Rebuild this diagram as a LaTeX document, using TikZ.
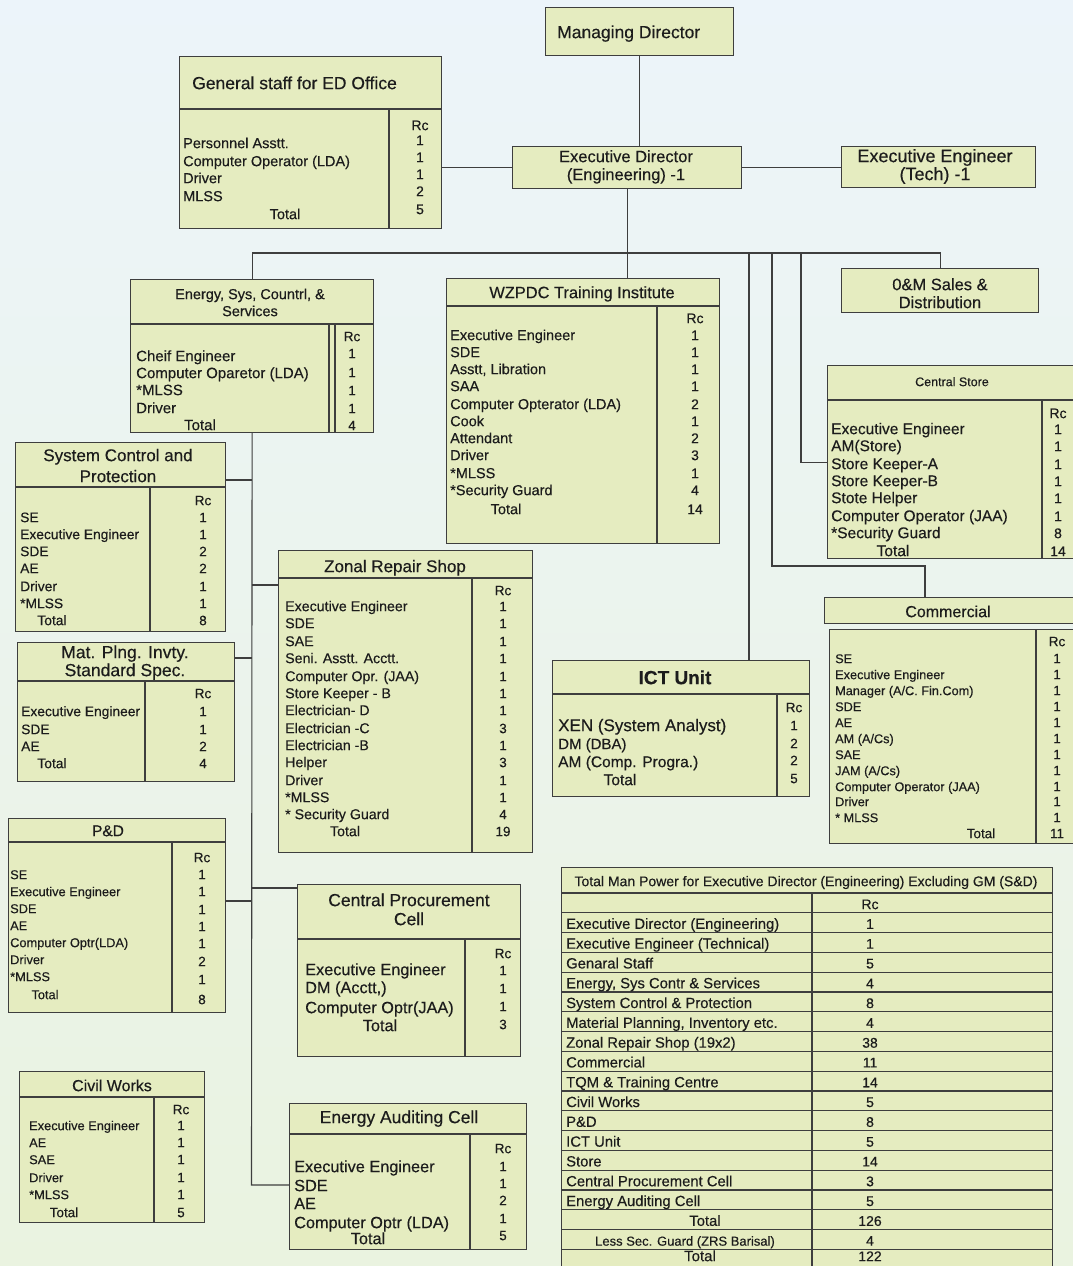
\documentclass[tikz,border=0pt]{standalone}
\usepackage{fontspec}
\setmainfont{Liberation Sans}[FakeBold=0.35]
\definecolor{boxfill}{RGB}{229,236,192}
\definecolor{boxline}{RGB}{62,62,62}
\definecolor{ink}{RGB}{28,28,28}
\definecolor{bgtop}{RGB}{236,244,250}
\definecolor{bgbot}{RGB}{234,243,224}
\newcommand\fs[1]{\fontsize{#1}{#1}\selectfont}
\tikzset{
  box/.style={draw=boxline, fill=boxfill, line width=1.2pt, inner sep=0pt, anchor=north west},
  inner/.style={draw=boxline, line width=1.1pt},
  conn/.style={draw=boxline, line width=1.1pt},
  lbl/.style={inner sep=0pt, text=ink, anchor=mid west, yshift=-3.5pt},
  ctr/.style={inner sep=0pt, text=ink, anchor=mid, yshift=-3.5pt},
}
% #1 prefix, #2 style, #3 size, #4 x, #5 list y/text
\newcommand\colm[5]{%
  \foreach \rowy/\rowt [count=\i] in {#5} {\node[#2, font=\fs{#3}] (#1\i) at (#4,\rowy) {\rowt};}}
\begin{document}
\begin{tikzpicture}[x=1pt,y=-1pt]
\useasboundingbox (0,0) rectangle (1073,1266);
\clip (0,0) rectangle (1073,1266);
\shade[top color=bgtop, bottom color=bgbot] (0,0) rectangle (1073,1266);

% ---------- boxes ----------
\node[box, minimum width=188, minimum height=48] (md) at (545,7) {};
\node[box, minimum width=262, minimum height=172] (gs) at (179,56) {};
\node[box, minimum width=229, minimum height=42] (ed) at (512,146) {};
\node[box, minimum width=194, minimum height=41] (eet) at (841,146) {};
\node[box, minimum width=197, minimum height=44] (om) at (841,268) {};
\node[box, minimum width=250, minimum height=193] (cs) at (827,365) {};
\node[box, minimum width=253, minimum height=26] (comh) at (824,597) {};
\node[box, minimum width=248, minimum height=214] (comb) at (829,629) {};
\node[box, minimum width=273, minimum height=265] (wz) at (446,278) {};
\node[box, minimum width=243, minimum height=153] (es) at (130,279) {};
\node[box, minimum width=210, minimum height=189] (sc) at (15,442) {};
\node[box, minimum width=217, minimum height=139] (mp) at (17,642) {};
\node[box, minimum width=254, minimum height=302] (zr) at (278,550) {};
\node[box, minimum width=257, minimum height=136] (ict) at (552,660) {};
\node[box, minimum width=217, minimum height=194] (pd) at (8,818) {};
\node[box, minimum width=223, minimum height=172] (cpc) at (297,884) {};
\node[box, minimum width=185, minimum height=151] (cw) at (19,1071) {};
\node[box, minimum width=237, minimum height=146] (eac) at (289,1103) {};
\node[box, minimum width=491, minimum height=410] (tbl) at (561,867) {};

% ---------- inner dividers ----------
\draw[inner] (179,109) -- (441,109) (389,109) -- (389,228);
\draw[inner] (827,400) -- (1073,400) (1042,400) -- (1042,558);
\draw[inner] (1036,629) -- (1036,843);
\draw[inner] (446,306) -- (719,306) (657,306) -- (657,543);
\draw[inner] (130,324) -- (373,324) (329,324) -- (329,432) (335,324) -- (335,432);
\draw[inner] (15,487) -- (225,487) (150,487) -- (150,631);
\draw[inner] (17,681) -- (234,681) (145,681) -- (145,781);
\draw[inner] (278,578) -- (532,578) (472,578) -- (472,852);
\draw[inner] (552,694) -- (809,694) (777,694) -- (777,796);
\draw[inner] (8,842) -- (225,842) (172,842) -- (172,1012);
\draw[inner] (297,939) -- (520,939) (465,939) -- (465,1056);
\draw[inner] (19,1097) -- (204,1097) (154,1097) -- (154,1222);
\draw[inner] (289,1134) -- (526,1134) (470,1134) -- (470,1249);
\draw[inner] (561,893) -- (1052,893) (812,893) -- (812,1270);
\foreach \k in {1,...,18} {\draw[inner] (561,{893+19.8*\k}) -- (1052,{893+19.8*\k});}

% ---------- connectors ----------
\coordinate (bus) at (626.5,253);
\coordinate (ictx) at (749,253);
\coordinate (comx) at (772,253);
\coordinate (csx) at (801,253);
\coordinate (comy) at (925,566);
\coordinate (scj) at (251.5,480);
\coordinate (zrj) at (251.5,585);
\coordinate (mpj) at (251.5,658);
\coordinate (cpj) at (251.5,888);
\coordinate (pdj) at (251.5,901);
\coordinate (spe) at (251.5,1185);
\draw[conn] (md.south) -- (md.south |- ed.north);
\draw[conn] (ed.west) -- (ed.west -| gs.east);
\draw[conn] (ed.east) -- (ed.east -| eet.west);
\draw[conn] (ed.south) -- (ed.south |- wz.north);
\draw[conn] (es.north) -- (es.north |- bus) -- (om.north |- bus) -- (om.north);
\draw[conn] (ictx) -- (ictx |- ict.north);
\draw[conn] (csx) |- (cs.west);
\draw[conn] (comx) |- (comy) -- (comy |- comh.north);
\draw[conn] (es.south) -- (spe) -- (spe -| eac.west);
\draw[conn] (scj) -- (scj -| sc.east);
\draw[conn] (zrj) -- (zrj -| zr.west);
\draw[conn] (mpj) -- (mpj -| mp.east);
\draw[conn] (cpj) -- (cpj -| cpc.west);
\draw[conn] (pdj) -- (pdj -| pd.east);

% ---------- texts ----------
\node[lbl, font=\fs{17.5}] (mdt) at (557,32) {Managing Director};

\node[lbl, font=\fs{17.5}] (gst) at (192,83) {General staff for ED Office};
\colm{gsi}{lbl}{14.5}{183}{142/{Personnel Asstt.},160/{Computer Operator (LDA)},177/Driver,195/MLSS}
\node[ctr, font=\fs{14.5}] (gstot) at (285,213) {Total};
\colm{gsn}{ctr}{14}{420}{124/Rc,139/1,156/1,173/1,190/2,208/5}

\node[ctr, font=\fs{16.5}] (edt1) at (626,156) {Executive Director};
\node[ctr, font=\fs{16.5}] (edt2) at (626,174) {(Engineering) -1};
\node[ctr, font=\fs{18}] (eet1) at (935,156) {Executive Engineer};
\node[ctr, font=\fs{18}] (eet2) at (935,174) {(Tech) -1};
\node[ctr, font=\fs{16.5}] (omt1) at (940,284) {0\&M Sales \&};
\node[ctr, font=\fs{16.5}] (omt2) at (940,302) {Distribution};

\node[ctr, font=\fs{12.5}] (cst) at (952,380) {Central Store};
\colm{csi}{lbl}{15.5}{831}{428/{Executive Engineer},445/{AM(Store)},463/{Store Keeper-A},480/{Store Keeper-B},497/{Stote Helper},515/{Computer Operator (JAA)},532/{*Security Guard}}
\node[ctr, font=\fs{15.5}] (cstot) at (893,550) {Total};
\colm{csn}{ctr}{14}{1058}{412/Rc,428/1,445/1,463/1,480/1,497/1,515/1,532/8,550/14}

\node[ctr, font=\fs{16}] (comt) at (948,611) {Commercial};
\colm{comi}{lbl}{12.7}{835}{657/SE,673/{Executive Engineer},689/{Manager (A/C. Fin.Com)},705/SDE,721/AE,737/{AM (A/Cs)},753/SAE,769/{JAM (A/Cs)},785/{Computer Operator (JAA)},800/Driver,816/{* MLSS}}
\node[ctr, font=\fs{13.5}] (comtot) at (981,832) {Total};
\colm{comn}{ctr}{13.5}{1057}{640/Rc,657/1,673/1,689/1,705/1,721/1,737/1,753/1,769/1,785/1,800/1,816/1,832/11}

\node[ctr, font=\fs{16.4}] (wzt) at (582,292) {WZPDC Training Institute};
\colm{wzi}{lbl}{14.5}{450}{334/{Executive Engineer},351/SDE,368/{Asstt, Libration},385/SAA,403/{Computer Opterator (LDA)},420/Cook,437/Attendant,454/Driver,472/{*MLSS},489/{*Security Guard}}
\node[ctr, font=\fs{14.5}] (wztot) at (506,508) {Total};
\colm{wzn}{ctr}{14}{695}{317/Rc,334/1,351/1,368/1,385/1,403/2,420/1,437/2,454/3,472/1,489/4,508/14}

\node[ctr, font=\fs{14.5}] (est1) at (250,293) {Energy, Sys, Countrl, \&};
\node[ctr, font=\fs{14.5}] (est2) at (250,310) {Services};
\colm{esi}{lbl}{15}{136}{355/{Cheif Engineer},372/{Computer Oparetor (LDA)},389/{*MLSS},407/Driver}
\node[ctr, font=\fs{15}] (estot) at (200,424) {Total};
\colm{esn}{ctr}{13.5}{352}{335/Rc,352/1,371/1,389/1,407/1,424/4}

\node[ctr, font=\fs{17}] (sct1) at (118,455) {System Control and};
\node[ctr, font=\fs{17}] (sct2) at (118,476) {Protection};
\colm{sci}{lbl}{13.8}{20}{516/SE,533/{Executive Engineer},550/SDE,567/AE,585/Driver,602/{*MLSS}}
\node[ctr, font=\fs{13.8}] (sctot) at (52,619) {Total};
\colm{scn}{ctr}{13.5}{203}{499/Rc,516/1,533/1,550/2,567/2,585/1,602/1,619/8}

\node[ctr, font=\fs{17.5}] (mpt1) at (125,652) {Mat. Plng. Invty.};
\node[ctr, font=\fs{17.5}] (mpt2) at (125,670) {Standard Spec.};
\colm{mpi}{lbl}{13.8}{21}{710/{Executive Engineer},728/SDE,745/AE}
\node[ctr, font=\fs{13.8}] (mptot) at (52,762) {Total};
\colm{mpn}{ctr}{13.5}{203}{692/Rc,710/1,728/1,745/2,762/4}

\node[ctr, font=\fs{17}] (zrt) at (395,566) {Zonal Repair Shop};
\colm{zri}{lbl}{14.2}{285}{605/{Executive Engineer},622/SDE,640/SAE,657/{Seni. Asstt. Acctt.},675/{Computer Opr. (JAA)},692/{Store Keeper - B},709/{Electrician- D},727/{Electrician -C},744/{Electrician -B},761/Helper,779/Driver,796/{*MLSS},813/{* Security Guard}}
\node[ctr, font=\fs{14.2}] (zrtot) at (345,830) {Total};
\colm{zrn}{ctr}{13.5}{503}{589/Rc,605/1,622/1,640/1,657/1,675/1,692/1,709/1,727/3,744/1,761/3,779/1,796/1,813/4,830/19}

\node[ctr, font=\bfseries\fs{19}] (ictt) at (675,678) {ICT Unit};
\node[lbl, font=\fs{17}] (icti1) at (558,725) {XEN (System Analyst)};
\node[lbl, font=\fs{15}] (icti2) at (558,743) {DM (DBA)};
\node[lbl, font=\fs{15.5}] (icti3) at (558,761) {AM (Comp. Progra.)};
\node[ctr, font=\fs{15.5}] (icttot) at (620,779) {Total};
\colm{ictn}{ctr}{13.5}{794}{706/Rc,724/1,742/2,759/2,777/5}

\node[ctr, font=\fs{15.5}] (pdt) at (108,830) {P\&D};
\colm{pdi}{lbl}{12.8}{10}{873/SE,890/{Executive Engineer},907/SDE,924/AE,941/{Computer Optr(LDA)},958/Driver,975/{*MLSS}}
\node[ctr, font=\fs{12.8}] (pdtot) at (45,993) {Total};
\colm{pdn}{ctr}{13.5}{202}{856/Rc,873/1,890/1,908/1,925/1,942/1,960/2,978/1,998/8}

\node[ctr, font=\fs{17.5}] (cpct1) at (409,900) {Central Procurement};
\node[ctr, font=\fs{17.5}] (cpct2) at (409,919) {Cell};
\colm{cpci}{lbl}{16.3}{305}{969/{Executive Engineer},987/{DM (Acctt,)},1007/{Computer Optr(JAA)}}
\node[ctr, font=\fs{16.3}] (cpctot) at (380,1025) {Total};
\colm{cpcn}{ctr}{13.5}{503}{952/Rc,969/1,987/1,1005/1,1023/3}

\node[ctr, font=\fs{16}] (cwt) at (112,1085) {Civil Works};
\colm{cwi}{lbl}{12.8}{29}{1124/{Executive Engineer},1141/AE,1158/SAE,1176/Driver,1193/{*MLSS}}
\node[ctr, font=\fs{13.5}] (cwtot) at (64,1211) {Total};
\colm{cwn}{ctr}{13.5}{181}{1108/Rc,1124/1,1141/1,1158/1,1176/1,1193/1,1211/5}

\node[ctr, font=\fs{17.5}] (eact) at (399,1117) {Energy Auditing Cell};
\colm{eaci}{lbl}{16.3}{294}{1166/{Executive Engineer},1185/SDE,1203/AE,1222/{Computer Optr (LDA)}}
\node[ctr, font=\fs{16.3}] (eactot) at (368,1238) {Total};
\colm{eacn}{ctr}{13.5}{503}{1147/Rc,1165/1,1182/1,1199/2,1217/1,1234/5}

% ---------- summary table ----------
\node[ctr, font=\fs{14}] (tblt) at (806,880) {Total Man Power for Executive Director (Engineering) Excluding GM (S\&D)};
\node[ctr, font=\fs{14}] (tblrc) at (870,903) {Rc};
\foreach \rt/\rv [count=\k] in {{Executive Director (Engineering)}/1,{Executive Engineer (Technical)}/1,{Genaral Staff}/5,{Energy, Sys Contr \& Services}/4,{System Control \& Protection}/8,{Material Planning, Inventory etc.}/4,{Zonal Repair Shop (19x2)}/38,{Commercial}/11,{TQM \& Training Centre}/14,{Civil Works}/5,{P\&D}/8,{ICT Unit}/5,{Store}/14,{Central Procurement Cell}/3,{Energy Auditing Cell}/5} {
  \node[lbl, font=\fs{14.8}] (tr\k) at (566,{902.9+19.8*\k}) {\rt};
  \node[ctr, font=\fs{14}] (tv\k) at (870,{902.9+19.8*\k}) {\rv};
}
\node[ctr, font=\fs{14.8}] (tr16) at (705,{902.9+19.8*16}) {Total};
\node[ctr, font=\fs{14}] (tv16) at (870,{902.9+19.8*16}) {126};
\node[ctr, font=\fs{13}] (tr17) at (685,{902.9+19.8*17}) {Less Sec. Guard (ZRS Barisal)};
\node[ctr, font=\fs{14}] (tv17) at (870,{902.9+19.8*17}) {4};
\node[ctr, font=\fs{15}] (tr18) at (700,1255) {Total};
\node[ctr, font=\fs{14}] (tv18) at (870,1255) {122};
\end{tikzpicture}
\end{document}
